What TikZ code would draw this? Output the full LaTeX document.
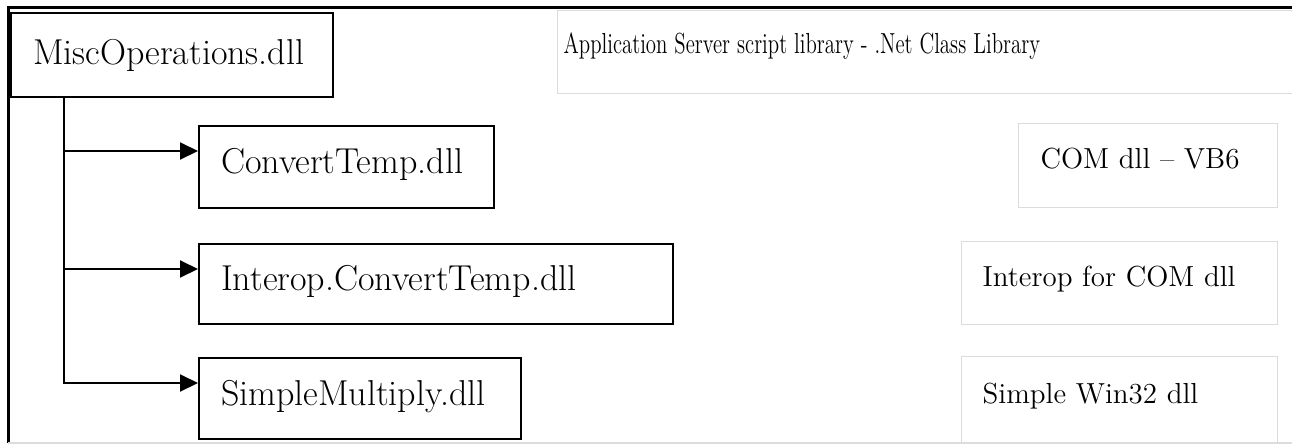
\documentclass[tikz,border=0pt]{standalone}
\usepackage{graphicx}
\usepackage{tikz}
\usetikzlibrary{arrows.meta,positioning}
\definecolor{DLInk}{HTML}{000000}
\definecolor{DLNote}{HTML}{DCDCDC}
\tikzset{
  dllbox/.style={draw=DLInk,line width=1pt,anchor=north west,align=left,
                 inner xsep=11pt,inner ysep=0pt,font=\fontsize{18}{21}\selectfont},
  notebox/.style={draw=DLNote,line width=0.6pt,anchor=north west,align=left,
                  inner xsep=10.5pt,inner ysep=0pt,text depth=7pt,font=\fontsize{14.5}{17}\selectfont},
  ref/.style={-{Triangle[length=9pt,width=8.5pt]},DLInk,line width=1pt},
  frame/.style={DLInk,line width=1.5pt},
  baseline/.style={DLNote,line width=0.6pt},
}

\begin{document}
\begin{tikzpicture}[x=0.5pt,y=-0.5pt]
  \clip (0,0) rectangle (1292,445);
  % outer frame
  \draw[frame] (1300,7) -- (8,7) -- (8,443);
  \draw[baseline] (8,443) -- (1300,443);

  % assemblies
  \node[dllbox,minimum width=161pt,minimum height=42pt,text width=139pt] (misc) at (10,12) {MiscOperations.dll};
  \node[dllbox,text depth=6pt,minimum width=147.5pt,minimum height=41pt,text width=125.5pt] (conv) at (198,125) {ConvertTemp.dll};
  \node[dllbox,text depth=6pt,minimum width=237pt,minimum height=40pt,text width=215pt] (interop) at (198,243) {Interop.ConvertTemp.dll};
  \node[dllbox,text depth=6pt,minimum width=161pt,minimum height=40.5pt,text width=139pt] (simple) at (198,357) {SimpleMultiply.dll};

  % notes
  \node[notebox,inner xsep=3pt,text depth=9pt,minimum width=372.5pt,minimum height=41.5pt,text width=366.5pt] (appnote) at (557,10)
    {\scalebox{0.72}[1]{Application Server script library - .Net Class Library}};
  \node[notebox,inner xsep=11pt,minimum width=129.5pt,minimum height=42pt,text width=107.5pt] (convnote) at (1018,123) {COM dll -- VB6};
  \node[notebox,minimum width=158pt,minimum height=41.5pt,text width=137pt] (interopnote) at (961,241) {Interop for COM dll};
  \node[notebox,minimum width=158pt,minimum height=43.5pt,text width=137pt] (simplenote) at (961,356) {Simple Win32 dll};

  % references
  \coordinate (trunk) at ([xshift=27pt]misc.south west);
  \foreach \dll in {conv,interop,simple}
    \draw[ref] (trunk) |- ([yshift=-13pt]\dll.north west);
\end{tikzpicture}
\end{document}
